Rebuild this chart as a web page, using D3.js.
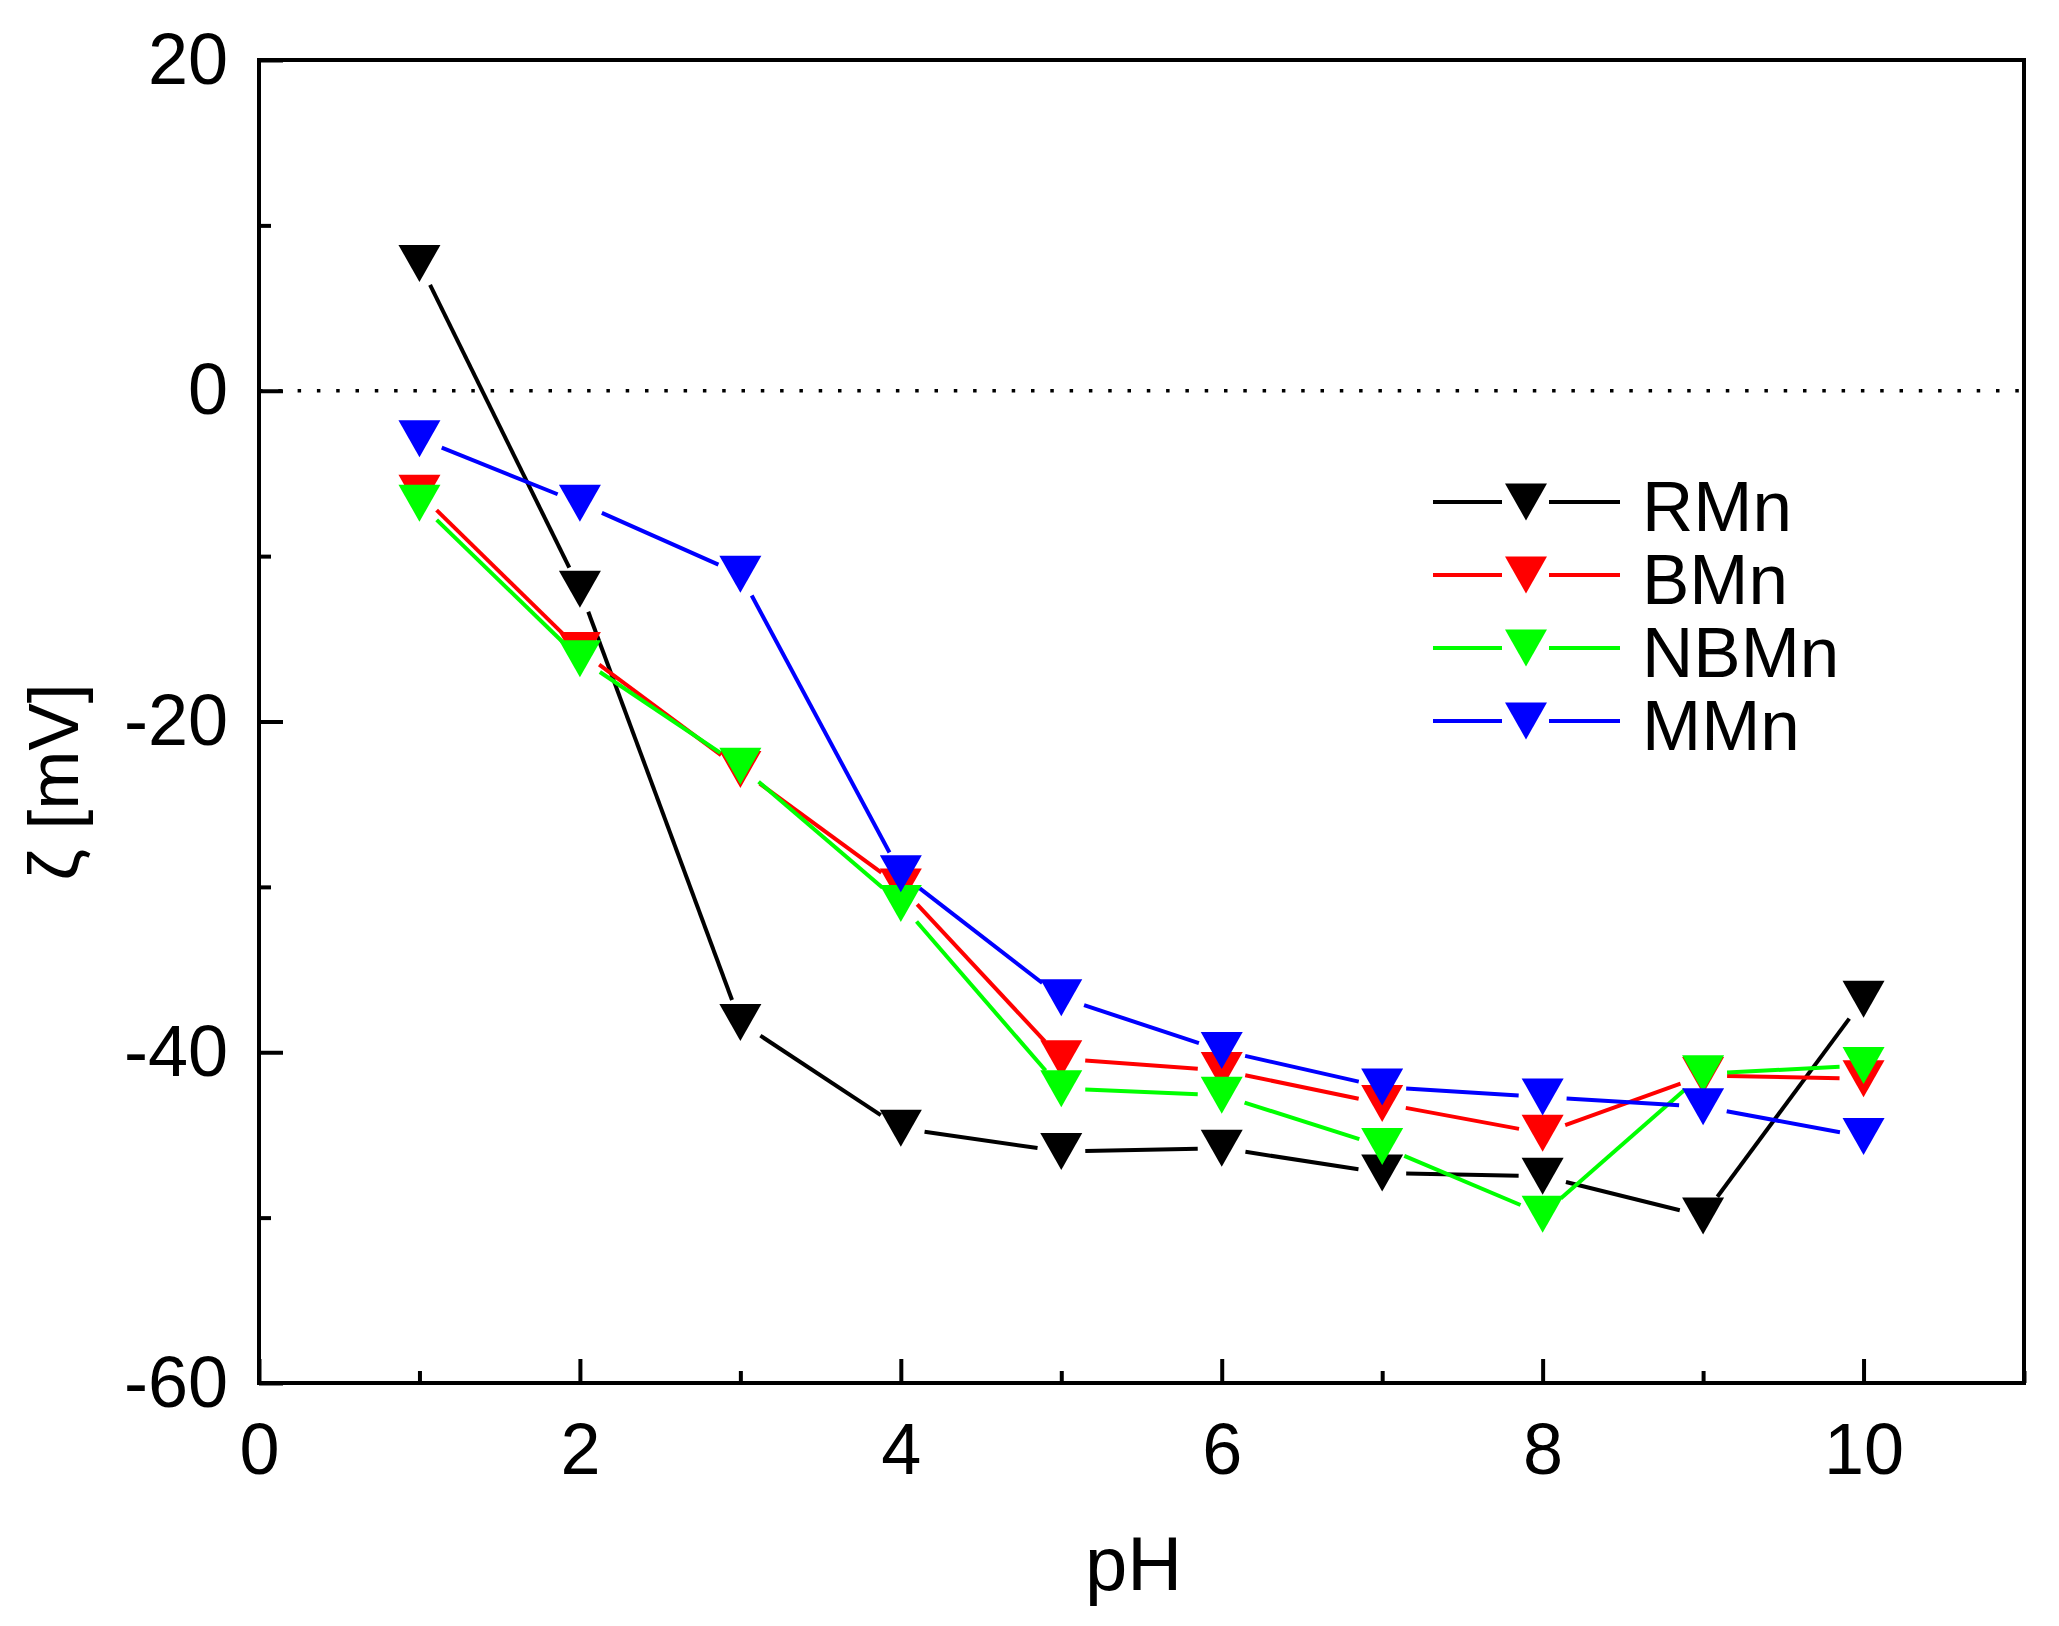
<!DOCTYPE html>
<html>
<head>
<meta charset="utf-8">
<script src="https://cdn.jsdelivr.net/npm/d3@7"></script>
<style>
  body { margin: 0; background: #fff; }
  text { font-family: "Liberation Sans", Arial, sans-serif; fill: #000; }
</style>
</head>
<body>
<svg id="chart"></svg>
<script>
// data
var phValues = [1, 2, 3, 4, 5, 6, 7, 8, 9, 10];
var rmn = [7.7, -12.0, -38.2, -44.6, -46.0, -45.8, -47.3, -47.5, -49.9, -36.8];
var bmn = [-6.2, -15.7, -22.9, -30.0, -40.4, -41.1, -43.1, -44.9, -41.4, -41.6];
var nbmn = [-6.8, -16.2, -22.7, -31.0, -42.2, -42.6, -45.7, -49.8, -41.3, -40.8];
var mmn = [-2.9, -6.8, -11.1, -29.2, -36.7, -39.9, -42.1, -42.7, -43.3, -45.1];
var seriesNames = ["RMn", "BMn", "NBMn", "MMn"];
var seriesColors = ["#000000", "#ff0000", "#00ff00", "#0000ff"];
var xMajorTicks = [0, 2, 4, 6, 8, 10];
var xMinorTicks = [1, 3, 5, 7, 9, 11];
var yMajorTicks = [20, 0, -20, -40, -60];
var yMinorTicks = [10, -10, -30, -50];

var allSeries = [rmn, bmn, nbmn, mmn];

var screen = { width: 2059, height: 1626 };
var margins = { top: 60, left: 259, right: 35, bottom: 243 };
var graph = {
  width: screen.width - margins.left - margins.right,
  height: screen.height - margins.top - margins.bottom
};

var svg = d3.select("#chart")
  .attr("width", screen.width)
  .attr("height", screen.height);

var xScale = d3.scaleLinear().domain([0, 11]).range([0, graph.width]);
var yScale = d3.scaleLinear().domain([-60, 20]).range([graph.height, 0]);

// plain hyphen for negatives, like the original figure
var tickFmt = function (d) { return String(d); };

var g = svg.append("g")
  .attr("transform", "translate(" + margins.left + "," + margins.top + ")");

// zero reference line
g.append("line")
  .attr("x1", 0)
  .attr("x2", graph.width)
  .attr("y1", yScale(0))
  .attr("y2", yScale(0))
  .attr("stroke", "#000")
  .attr("stroke-width", 3.5)
  .attr("stroke-dasharray", "3.5,15.8");

// axes: major ticks with labels, minor ticks without, all pointing inward
var styleAxis = function (sel) {
  sel.select(".domain").remove();
  sel.selectAll(".tick line").attr("stroke", "#000").attr("stroke-width", 4);
  sel.selectAll(".tick text")
    .attr("fill", "#000")
    .style("font-size", "72px")
    .style("font-family", "'Liberation Sans', Arial, sans-serif");
};

g.append("g")
  .attr("transform", "translate(0," + graph.height + ")")
  .call(d3.axisBottom(xScale).tickValues(xMajorTicks).tickSize(-24).tickPadding(40).tickFormat(tickFmt))
  .call(styleAxis);

g.append("g")
  .attr("transform", "translate(0," + graph.height + ")")
  .call(d3.axisBottom(xScale).tickValues(xMinorTicks).tickSize(-12).tickFormat(""))
  .call(styleAxis);

g.append("g")
  .call(d3.axisLeft(yScale).tickValues(yMajorTicks).tickSize(-24).tickPadding(31).tickFormat(tickFmt))
  .call(styleAxis);

g.append("g")
  .call(d3.axisLeft(yScale).tickValues(yMinorTicks).tickSize(-12).tickFormat(""))
  .call(styleAxis);

// frame
g.append("rect")
  .attr("x", 0)
  .attr("y", 0)
  .attr("width", graph.width)
  .attr("height", graph.height)
  .attr("fill", "none")
  .attr("stroke", "#000")
  .attr("stroke-width", 4);

var trianglePath = function (cx, cy) {
  var w = 21, h = 18.5;
  return "M" + (cx - w) + "," + (cy - h) +
    "L" + (cx + w) + "," + (cy - h) +
    "L" + cx + "," + (cy + h) + "Z";
};

// line segments stop short of the markers
var gap = 24;
var plot = g.append("g");

allSeries.forEach(function (values, si) {
  var pts = phValues.map(function (p, i) {
    return [xScale(p), yScale(values[i])];
  });
  var segs = d3.pairs(pts);
  var sg = plot.append("g").classed(seriesNames[si], true);

  sg.selectAll("line")
    .data(segs)
    .enter()
    .append("line")
    .each(function (d) {
      var dx = d[1][0] - d[0][0];
      var dy = d[1][1] - d[0][1];
      var len = Math.sqrt(dx * dx + dy * dy);
      var ux = dx / len, uy = dy / len;
      d3.select(this)
        .attr("x1", d[0][0] + ux * gap)
        .attr("y1", d[0][1] + uy * gap)
        .attr("x2", d[1][0] - ux * gap)
        .attr("y2", d[1][1] - uy * gap);
    })
    .attr("stroke", seriesColors[si])
    .attr("stroke-width", 4);

  sg.selectAll("path")
    .data(pts)
    .enter()
    .append("path")
    .attr("d", function (d) { return trianglePath(d[0], d[1]); })
    .attr("fill", seriesColors[si]);
});

// legend
var legend = svg.append("g").classed("legend", true);
seriesNames.forEach(function (name, i) {
  var y = 502 + i * 73;
  var row = legend.append("g");
  row.append("line")
    .attr("x1", 1433).attr("x2", 1502)
    .attr("y1", y).attr("y2", y)
    .attr("stroke", seriesColors[i]).attr("stroke-width", 4);
  row.append("line")
    .attr("x1", 1549).attr("x2", 1620)
    .attr("y1", y).attr("y2", y)
    .attr("stroke", seriesColors[i]).attr("stroke-width", 4);
  row.append("path")
    .attr("d", trianglePath(1526, y))
    .attr("fill", seriesColors[i]);
  row.append("text")
    .attr("x", 1642)
    .attr("y", y + 29)
    .style("font-size", "71px")
    .text(name);
});

// axis titles
svg.append("text")
  .attr("x", margins.left + graph.width / 2 - 8)
  .attr("y", 1590)
  .attr("text-anchor", "middle")
  .style("font-size", "76px")
  .text("pH");

svg.append("text")
  .attr("transform", "translate(78,782) rotate(-90)")
  .attr("text-anchor", "middle")
  .style("font-size", "71px")
  .text("ζ [mV]");
</script>
</body>
</html>
